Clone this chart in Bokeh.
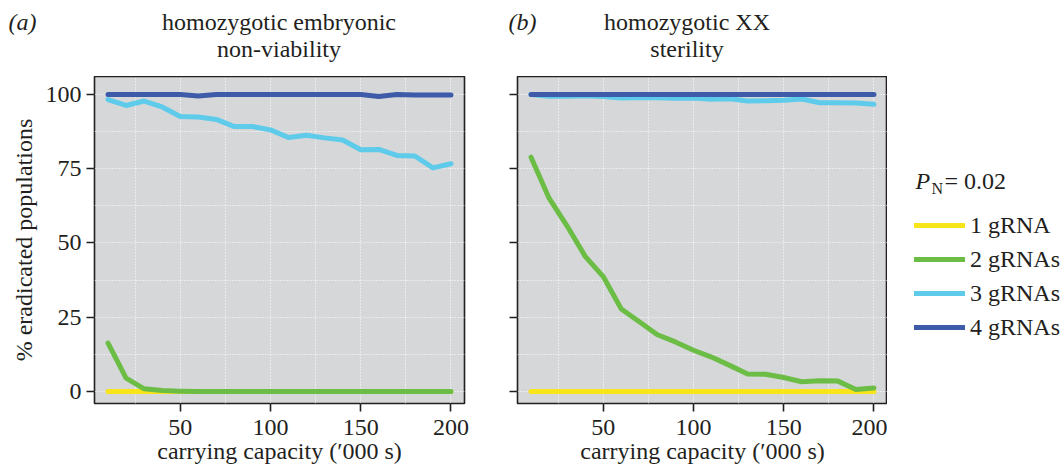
from bokeh.plotting import figure
from bokeh.models import (Range1d, FixedTicker, Label, Legend, LegendItem)
from bokeh.layouts import row, column
from bokeh.embed import file_html
from bokeh.resources import INLINE

# ---------------- data ----------------
capacity = [10, 20, 30, 40, 50, 60, 70, 80, 90, 100,
            110, 120, 130, 140, 150, 160, 170, 180, 190, 200]

series_names = ["1 gRNA", "2 gRNAs", "3 gRNAs", "4 gRNAs"]

# panel (a): homozygotic embryonic non-viability
a_g1 = [0, 0, 0, 0, 0, 0, 0, 0, 0, 0, 0, 0, 0, 0, 0, 0, 0, 0, 0, 0]
a_g2 = [16.3, 4.5, 0.9, 0.3, 0.1, 0, 0, 0, 0, 0, 0, 0, 0, 0, 0, 0, 0, 0, 0, 0]
a_g3 = [98.3, 96.3, 97.8, 95.8, 92.6, 92.4, 91.6, 89.2, 89.2, 88.1,
        85.5, 86.3, 85.4, 84.7, 81.4, 81.5, 79.5, 79.3, 75.3, 76.7]
a_g4 = [100, 100, 100, 100, 100, 99.5, 100, 100, 100, 100,
        100, 100, 100, 100, 100, 99.3, 100, 99.8, 99.8, 99.8]

# panel (b): homozygotic XX sterility
b_g1 = [0, 0, 0, 0, 0, 0, 0, 0, 0, 0, 0, 0, 0, 0, 0, 0, 0, 0, 0, 0]
b_g2 = [78.9, 65.1, 55.7, 45.5, 38.7, 27.8, 23.5, 19.1, 16.7, 13.9,
        11.6, 8.8, 5.9, 5.8, 4.7, 3.3, 3.6, 3.5, 0.7, 1.2]
b_g3 = [100, 99.4, 99.4, 99.6, 99.3, 98.8, 99.0, 98.9, 98.7, 98.8,
        98.4, 98.6, 97.8, 97.9, 98.1, 98.5, 97.2, 97.2, 97.1, 96.7]
b_g4 = [100, 100, 100, 100, 100, 100, 100, 100, 100, 100,
        100, 100, 100, 100, 100, 100, 100, 100, 100, 100]

x_ticks = [50, 100, 150, 200]
y_ticks = [0, 25, 50, 75, 100]
x_grid = [25, 50, 75, 100, 125, 150, 175, 200]
y_grid = [0, 12.5, 25, 37.5, 50, 62.5, 75, 87.5, 100]

panel_tags = ["(a)", "(b)"]
panel_titles = [["homozygotic embryonic", "non-viability"],
                ["homozygotic XX", "sterility"]]
x_label = "carrying capacity (\u2032000 s)"
y_label = "% eradicated populations"

# ---------------- style ----------------
FONT = "Liberation Serif"
INK = "#231f20"
BG = "#d6d7d9"
COLORS = ["#f7e51a", "#6cbd45", "#5ecbea", "#3d5ba9"]
FS = "24px"

FRAME_W, FRAME_H = 370, 327
TOP_H = 76
BOTTOM = 64


def blank_fig(w, h):
    p = figure(frame_width=w, frame_height=h, x_range=Range1d(0, 1), y_range=Range1d(0, 1),
               x_axis_location=None, y_axis_location=None,
               output_backend="svg", toolbar_location=None,
               min_border=0)
    p.outline_line_color = None
    p.grid.visible = False
    p.background_fill_color = "white"
    return p


def make_panel(series, show_ylabels, border_left, border_right):
    p = figure(frame_width=FRAME_W, frame_height=FRAME_H,
               x_range=Range1d(2.5, 207.5), y_range=Range1d(-4.04, 106.06),
               output_backend="svg", toolbar_location=None,
               min_border_left=border_left, min_border_right=border_right,
               min_border_top=0, min_border_bottom=BOTTOM)
    p.background_fill_color = BG
    p.border_fill_color = "white"
    p.outline_line_color = INK
    p.outline_line_width = 1.6

    p.xaxis.ticker = FixedTicker(ticks=x_ticks)
    p.yaxis.ticker = FixedTicker(ticks=y_ticks)
    p.xgrid.ticker = FixedTicker(ticks=x_grid)
    p.ygrid.ticker = FixedTicker(ticks=y_grid)
    for g in (p.xgrid, p.ygrid):
        g.grid_line_color = "white"
        g.grid_line_dash = "1 2"
        g.grid_line_width = 1

    for ax in (p.xaxis, p.yaxis):
        ax.axis_line_color = None
        ax.major_tick_line_color = INK
        ax.major_tick_line_width = 1.6
        ax.major_tick_out = 8
        ax.major_tick_in = 0
        ax.minor_tick_line_color = None
        ax.major_label_text_font = FONT
        ax.major_label_text_font_size = FS
        ax.major_label_text_color = INK
        ax.axis_label_text_font = FONT
        ax.axis_label_text_font_size = FS
        ax.axis_label_text_color = INK
        ax.axis_label_text_font_style = "normal"
    p.xaxis.axis_label = x_label
    p.xaxis.major_label_standoff = 8
    p.xaxis.axis_label_standoff = 0
    if show_ylabels:
        p.yaxis.axis_label = y_label
        p.yaxis.major_label_standoff = 5
        p.yaxis.axis_label_standoff = 6
    else:
        p.yaxis.major_label_overrides = {t: "" for t in y_ticks}
        p.yaxis.major_label_standoff = 0

    renderers = []
    for vals, col in zip(series, COLORS):
        r = p.line(capacity, vals, line_color=col, line_width=5,
                   line_cap="round", line_join="round")
        renderers.append(r)
    return p, renderers


# ---- top strip with panel tags and titles ----
strip = blank_fig(1064, TOP_H)
tag_x = [8, 508]
title_cx = [278.5, 686.5]
LINE1 = TOP_H - 29.5 + 8
for tag, lines, tx, cx in zip(panel_tags, panel_titles, tag_x, title_cx):
    strip.add_layout(Label(x=tx, y=LINE1, x_units="screen", y_units="screen",
                           text=tag, text_font=FONT, text_font_size=FS,
                           text_font_style="italic", text_color=INK,
                           text_baseline="alphabetic", text_align="left"))
    for i, t in enumerate(lines):
        strip.add_layout(Label(x=cx, y=LINE1 - 27 * i, x_units="screen", y_units="screen",
                               text=t, text_font=FONT, text_font_size=FS, text_color=INK,
                               text_baseline="alphabetic", text_align="center"))

# ---- panels ----
pa, ra = make_panel([a_g1, a_g2, a_g3, a_g4], True, 94, 10)
pb, rb = make_panel([b_g1, b_g2, b_g3, b_g4], False, 43, 0)

# ---- legend area (its key lines lie outside this area's range, so only the key shows) ----
LEG_W = 1064 - (94 + FRAME_W + 10) - (43 + FRAME_W)
LEG_H = FRAME_H + BOTTOM
pl = blank_fig(LEG_W, LEG_H)
leg_renderers = [pl.line(capacity, vals, line_color=c, line_width=5, line_cap="round")
                 for vals, c in zip([b_g1, b_g2, b_g3, b_g4], COLORS)]
items = [LegendItem(label=n, renderers=[r]) for n, r in zip(series_names, leg_renderers)]
legend = Legend(items=items, location=(27, 121 + BOTTOM - 62), orientation="vertical",
                label_text_font=FONT, label_text_font_size=FS, label_text_color=INK,
                glyph_width=51, glyph_height=34, label_height=34, label_standoff=5,
                spacing=0, padding=0, margin=0,
                border_line_color=None, background_fill_alpha=0)
pl.add_layout(legend)

# legend title  P_N = 0.02
TY = 277 + BOTTOM - 62 + 8
pl.add_layout(Label(x=28, y=TY, x_units="screen", y_units="screen", text="P",
                    text_font=FONT, text_font_size=FS, text_font_style="italic",
                    text_color=INK, text_baseline="alphabetic"))
pl.add_layout(Label(x=44, y=TY - 8, x_units="screen", y_units="screen", text="N",
                    text_font=FONT, text_font_size="16px",
                    text_color=INK, text_baseline="alphabetic"))
pl.add_layout(Label(x=57, y=TY, x_units="screen", y_units="screen", text="= 0.02",
                    text_font=FONT, text_font_size=FS,
                    text_color=INK, text_baseline="alphabetic"))

layout = column(strip, row(pa, pb, pl, spacing=0), spacing=0)
open("out.html", "w").write(file_html(layout, INLINE))
